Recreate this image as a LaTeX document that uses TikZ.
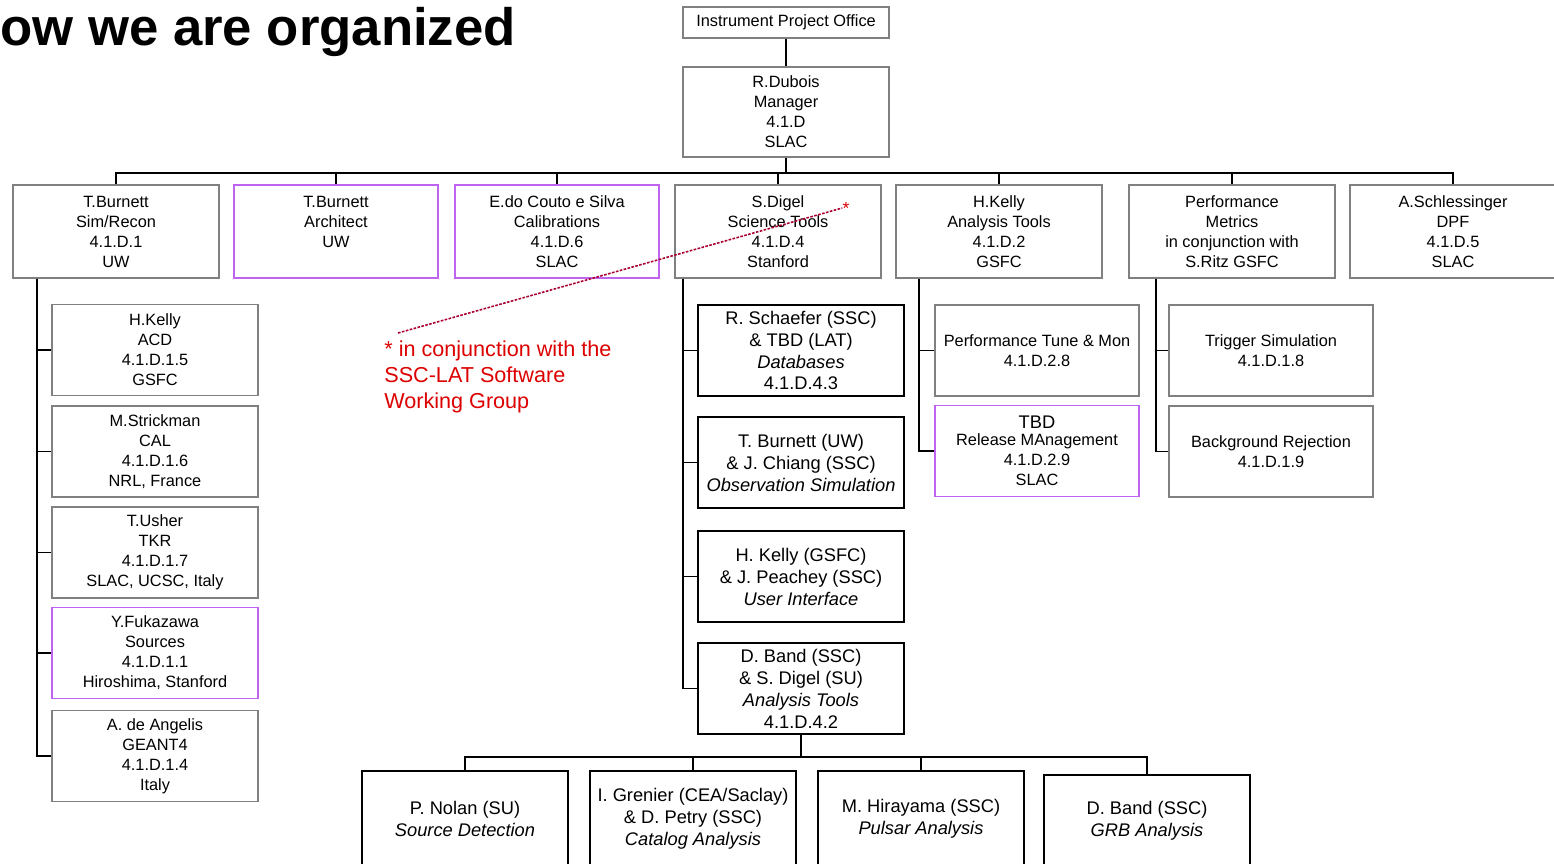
\documentclass[tikz,border=0pt]{standalone}
\usepackage{fontspec}
\setmainfont{Liberation Sans}
\usetikzlibrary{positioning,calc}
\definecolor{boxgray}{RGB}{128,128,128}
\definecolor{wgviolet}{RGB}{190,100,240}
\definecolor{notered}{RGB}{220,0,0}
\definecolor{notedash}{RGB}{170,0,50}

\begin{document}
\begin{tikzpicture}[
    x=0.02cm, y=-0.02cm,
    unit/.style={
        rectangle, draw=boxgray, line width=0.85pt,
        minimum width=4.12cm, minimum height=1.82cm, inner sep=1pt,
        align=center, font=\fontsize{9.3}{11.4}\selectfont
    },
    wg/.style={unit, draw=wgviolet, line width=1.1pt},
    tool/.style={
        rectangle, draw=black, line width=1.1pt,
        minimum width=4.12cm, minimum height=1.82cm, inner sep=1pt,
        align=center, font=\fontsize{10.4}{12.5}\selectfont
    },
    link/.style={line width=1.1pt}
]
\useasboundingbox (0,0) rectangle (1554,863);

% Title (cut at the left edge)
\node[anchor=base west, inner sep=0, font=\fontsize{30}{36}\selectfont\bfseries] (title) at (0,45) {ow we are organized};

% Top of the tree
\node[unit, minimum height=0.62cm] (ipo) at (786,22.5) {Instrument Project Office};
\node[unit, minimum height=1.8cm] (mgr) at (786,112) {R.Dubois\\Manager\\4.1.D\\SLAC};

% Level 1 (y=231)
\node[unit, minimum height=1.86cm] (simrecon) at (116,231.5) {T.Burnett\\Sim/Recon\\4.1.D.1\\UW};
\node[wg, minimum height=1.86cm, minimum width=4.08cm] (architect) at (336,231.5) {T.Burnett\\Architect\\UW\\\mbox{}};
\node[wg, minimum height=1.86cm, minimum width=4.08cm] (calib) at (557,231.5) {E.do Couto e Silva\\Calibrations\\4.1.D.6\\SLAC};
\node[unit, minimum height=1.86cm] (scitools) at (778,231.5) {S.Digel\\Science Tools\\4.1.D.4\\Stanford};
\node[unit, minimum height=1.86cm] (anatools) at (999,231.5) {H.Kelly\\Analysis Tools\\4.1.D.2\\GSFC};
\node[unit, minimum height=1.86cm] (perfmet) at (1232,231.5) {Performance\\Metrics\\in conjunction with\\S.Ritz GSFC};
\node[unit, minimum height=1.86cm] (dpf) at (1453,231.5) {A.Schlessinger\\DPF\\4.1.D.5\\SLAC};

% Sim/Recon column
\node[unit] (acd) at (155,350) {H.Kelly\\ACD\\4.1.D.1.5\\GSFC};
\node[unit] (cal) at (155,451.5) {M.Strickman\\CAL\\4.1.D.1.6\\NRL, France};
\node[unit] (tkr) at (155,552.5) {T.Usher\\TKR\\4.1.D.1.7\\SLAC, UCSC, Italy};
\node[wg] (sources) at (155,653) {Y.Fukazawa\\Sources\\4.1.D.1.1\\Hiroshima, Stanford};
\node[unit] (geant) at (155,756) {A. de Angelis\\GEANT4\\4.1.D.1.4\\Italy};

% Science Tools column
\node[tool] (dbase) at (801,350.5) {R. Schaefer (SSC)\\\& TBD (LAT)\\\textit{Databases}\\4.1.D.4.3};
\node[tool] (obssim) at (801,462.5) {T. Burnett (UW)\\\& J. Chiang (SSC)\\\textit{Observation Simulation}};
\node[tool] (uif) at (801,576.5) {H. Kelly (GSFC)\\\& J. Peachey (SSC)\\\textit{User Interface}};
\node[tool] (atools) at (801,688.5) {D. Band (SSC)\\\& S. Digel (SU)\\\textit{Analysis Tools}\\4.1.D.4.2};

% Analysis Tools and Performance Metrics columns
\node[unit, minimum width=4.08cm] (tune) at (1037,350.5) {Performance Tune \& Mon\\4.1.D.2.8};
\node[wg, minimum width=4.08cm] (release) at (1037,451) {{\fontsize{10.4}{12}\selectfont TBD}\\[-2pt]Release MAnagement\\4.1.D.2.9\\SLAC};
\node[unit, minimum width=4.08cm] (trigger) at (1271,350.5) {Trigger Simulation\\4.1.D.1.8};
\node[unit, minimum width=4.08cm] (bkg) at (1271,451.5) {Background Rejection\\4.1.D.1.9};

% Analysis tools children (bottom row)
\node[tool, minimum height=1.9cm] (srcdet) at (465,818.5) {P. Nolan (SU)\\\textit{Source Detection}};
\node[tool, minimum height=1.9cm] (catalog) at (693,818.5) {I. Grenier (CEA/Saclay)\\\& D. Petry (SSC)\\\textit{Catalog Analysis}};
\node[tool, minimum height=1.9cm] (pulsar) at (921,818.5) {M. Hirayama (SSC)\\\textit{Pulsar Analysis}};
\node[tool, minimum height=1.82cm] (grb) at (1147,820.5) {D. Band (SSC)\\\textit{GRB Analysis}};

% Buses and trunks
\coordinate (bus) at (786,173);
\coordinate (srtrunk) at ($(simrecon.south west)+(25,0)$);
\coordinate (sttrunk) at ($(scitools.south west)+(9,0)$);
\coordinate (attrunk) at ($(anatools.south west)+(24,0)$);
\coordinate (pmtrunk) at ($(perfmet.south west)+(28,0)$);
\coordinate (lowbus) at (801,757);

\draw[link] (ipo) -- (mgr);
\draw[link] (mgr.south) -- (bus);
\foreach \n in {simrecon,architect,calib,scitools,anatools,perfmet,dpf}
    \draw[link] (\n.north) |- (bus);
\foreach \n in {acd,cal,tkr,sources,geant}
    \draw[link] (srtrunk) |- (\n.west);
\foreach \n in {dbase,obssim,uif,atools}
    \draw[link] (sttrunk) |- (\n.west);
\foreach \n in {tune,release}
    \draw[link] (attrunk) |- (\n.west);
\foreach \n in {trigger,bkg}
    \draw[link] (pmtrunk) |- (\n.west);
\draw[link] (atools.south) -- (lowbus);
\foreach \n in {srcdet,catalog,pulsar,grb}
    \draw[link] (\n.north) |- (lowbus);

% Working group note
\node[anchor=north west, inner sep=0, align=left, text=notered,
      font=\fontsize{12.3}{14.8}\selectfont] (note) at (384,340)
    {* in conjunction with the\\SSC-LAT Software\\Working Group};
\node[inner sep=0, text=notered, font=\fontsize{10}{12}\selectfont] (star) at (846,208) {*};
\coordinate (notetip) at (398,333);
\draw[notedash, line width=0.9pt, dash pattern=on 1.5pt off 0.8pt] (notetip) -- (star.west);

\end{tikzpicture}
\end{document}
